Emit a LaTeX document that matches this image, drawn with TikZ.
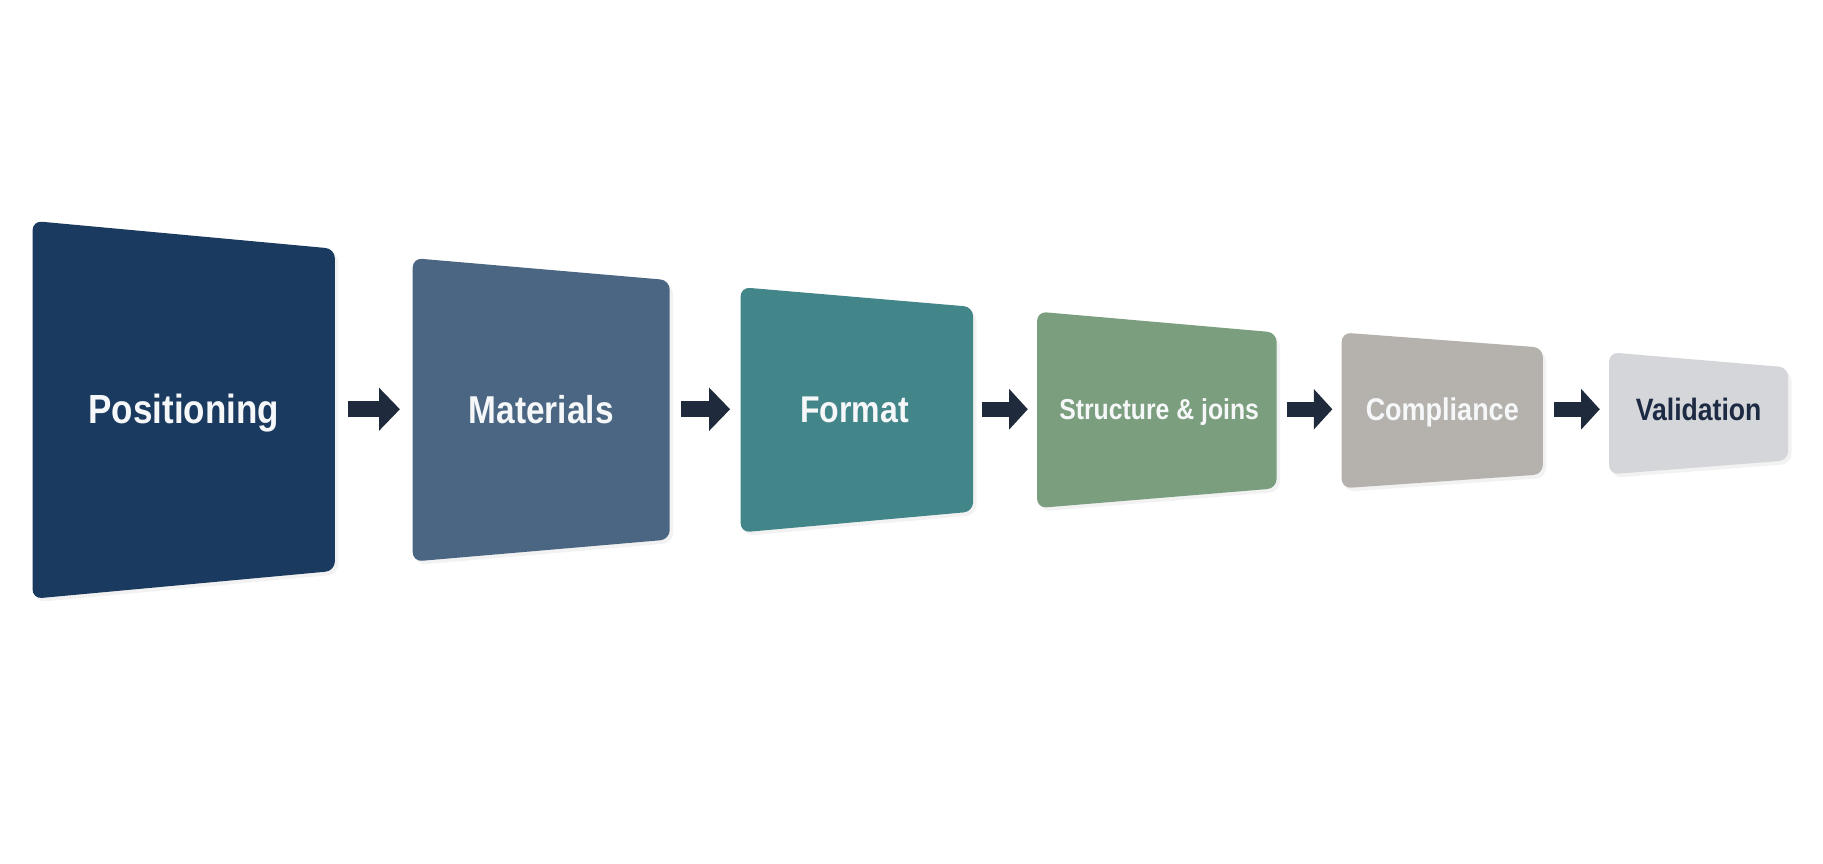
\documentclass[tikz,border=0pt]{standalone}
\usepackage{fontspec}
\newfontfamily\labfont[FakeStretch=0.86]{Liberation Sans}
\usetikzlibrary{arrows.meta}
\definecolor{cA}{HTML}{1B3A5F}
\definecolor{cB}{HTML}{4A6682}
\definecolor{cC}{HTML}{43868A}
\definecolor{cD}{HTML}{7A9E7E}
\definecolor{cE}{HTML}{B5B2AD}
\definecolor{cF}{HTML}{D4D6D9}
\definecolor{arrowc}{HTML}{1F2A3C}
\definecolor{labwhite}{HTML}{F5F7F9}
\definecolor{labdark}{HTML}{1C2A44}
\tikzset{
  panel/.style={rounded corners=8pt},
  shade/.style={fill=black, fill opacity=0.05, rounded corners=9pt},
  lab/.style={anchor=base, inner sep=0pt, text=labwhite},
  blockarrow/.style={draw=arrowc, line width=13.5pt, line cap=butt,
    -{Triangle[length=18pt,width=36pt]}},
}
\begin{document}
\begin{tikzpicture}[x=1pt,y=-1pt]
\useasboundingbox (0,0) rectangle (1568,742.3);
\fill[white] (0,0) rectangle (1568,742.3);
% shadows
\fill[shade] (30,193) -- (291,217) -- (291,494) -- (30,518) -- cycle;
\fill[shade] (357,225) -- (579,244) -- (579,467) -- (357,486) -- cycle;
\fill[shade] (639,250) -- (840,267) -- (840,443) -- (639,461) -- cycle;
\fill[shade] (894,271) -- (1101,289) -- (1101,423) -- (894,440) -- cycle;
\fill[shade] (1156,289) -- (1330,302) -- (1330,411) -- (1156,423) -- cycle;
\fill[shade] (1386,306) -- (1541,319) -- (1541,399) -- (1386,411) -- cycle;
% panels
\fill[cA,panel] (28,190) -- (288,214) -- (288,491) -- (28,515) -- cycle;
\fill[cB,panel] (355,222) -- (576,241) -- (576,464) -- (355,483) -- cycle;
\fill[cC,panel] (637,247) -- (837,264) -- (837,440) -- (637,458) -- cycle;
\fill[cD,panel] (892,268) -- (1098,286) -- (1098,420) -- (892,437) -- cycle;
\fill[cE,panel] (1154,286) -- (1327,299) -- (1327,408) -- (1154,420) -- cycle;
\fill[cF,panel] (1384,303) -- (1538,316) -- (1538,396) -- (1384,408) -- cycle;
% labels
\node[lab, font=\labfont\bfseries\fontsize{35}{40}\selectfont] (b1) at (158,364.5) {Positioning};
\node[lab, font=\labfont\bfseries\fontsize{33.4}{38}\selectfont] (b2) at (465.5,364) {Materials};
\node[lab, font=\labfont\bfseries\fontsize{32}{36}\selectfont] (b3) at (735,363.5) {Format};
\node[lab, font=\labfont\bfseries\fontsize{24.8}{30}\selectfont] (b4) at (997,361) {Structure \& joins};
\node[lab, font=\labfont\bfseries\fontsize{27}{32}\selectfont] (b5) at (1240.5,361.7) {Compliance};
\node[lab, text=labdark, font=\labfont\bfseries\fontsize{26.6}{32}\selectfont] (b6) at (1461,361.5) {Validation};
% arrow end points
\coordinate (a1s) at (299,352); \coordinate (a1e) at (344,352);
\coordinate (a2s) at (586,352); \coordinate (a2e) at (628,352);
\coordinate (a3s) at (845,352); \coordinate (a3e) at (884,352);
\coordinate (a4s) at (1107,352); \coordinate (a4e) at (1146,352);
\coordinate (a5s) at (1337,352); \coordinate (a5e) at (1376,352);
\draw[blockarrow] (a1s) -- (a1e);
\draw[blockarrow] (a2s) -- (a2e);
\draw[blockarrow, line width=13pt, -{Triangle[length=16pt,width=34pt]}] (a3s) -- (a3e);
\draw[blockarrow, line width=13pt, -{Triangle[length=16pt,width=34pt]}] (a4s) -- (a4e);
\draw[blockarrow, line width=13pt, -{Triangle[length=16pt,width=34pt]}] (a5s) -- (a5e);
\end{tikzpicture}
\end{document}
